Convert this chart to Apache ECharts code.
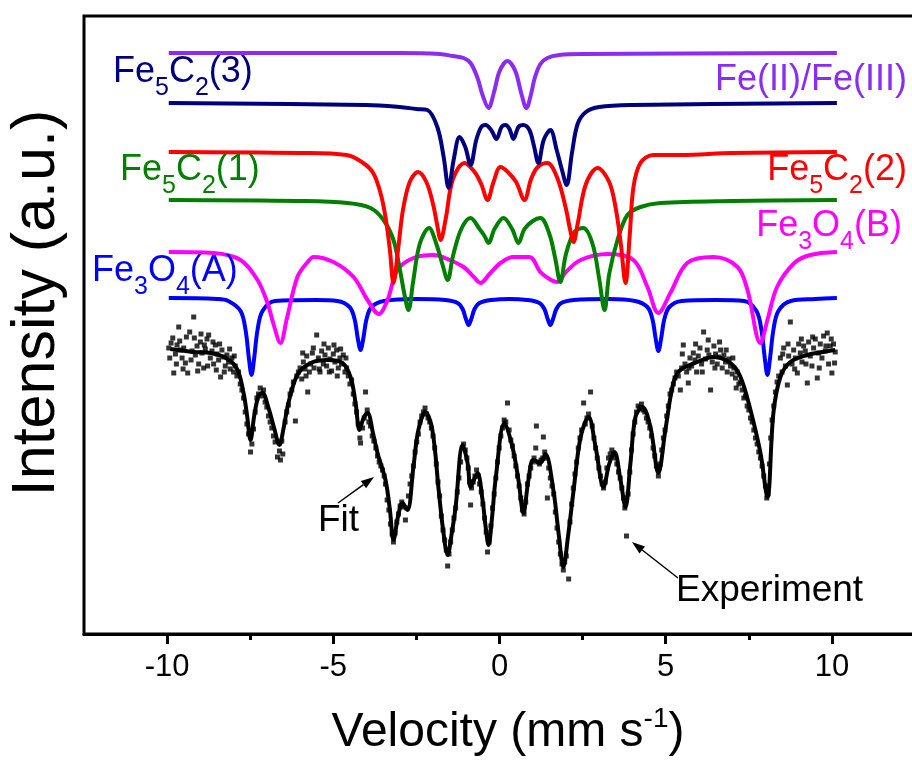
<!DOCTYPE html>
<html>
<head>
<meta charset="utf-8">
<title>Mössbauer spectrum</title>
<script src="https://cdn.jsdelivr.net/npm/echarts@6/dist/echarts.min.js"></script>
<style>
    html, body { margin: 0; padding: 0; background: #fff; }
    #main { width: 912px; height: 769px; }
</style>
</head>
<body>
<div id="main"></div>
<script>
/* velocity (mm/s), intensity (a.u.) */
var xMajor = [-10, -5, 0, 5, 10];
var xMinor = [-7.5, -2.5, 2.5, 7.5];

var fe2fe3 = [[-9.95,581],[-3,581],[-1.8,580],[-1.4,578],[-1.08,576],[-0.87,571],[-0.66,556],[-0.5,538],[-0.33,526],[-0.18,540],[-0.02,561],[0.12,570],[0.24,573],[0.36,570],[0.5,561],[0.66,540],[0.81,526],[0.95,540],[1.06,556],[1.23,570],[1.44,576],[1.8,579],[2.5,580],[10.15,581]];

var fe5c2_3 = [[-9.95,531],[-4,529],[-3,527],[-2.5,525],[-2.17,524],[-1.87,507],[-1.68,477],[-1.53,446],[-1.38,474],[-1.2,497],[-1.03,487],[-0.87,469],[-0.7,494],[-0.55,507],[-0.42,509],[-0.25,504],[-0.09,495],[0.06,507],[0.18,509],[0.3,505],[0.42,495],[0.57,507],[0.72,509],[0.9,504],[1.03,489],[1.17,471],[1.33,494],[1.53,504],[1.72,484],[1.88,464],[2.02,449],[2.18,481],[2.35,510],[2.6,522],[3.0,527],[4,529],[10.15,531]];

var fe5c2_2 = [[-9.95,482],[-6,481],[-4.6,479],[-4.1,471],[-3.8,461],[-3.58,441],[-3.43,417],[-3.3,385],[-3.19,351],[-3.05,385],[-2.9,425],[-2.7,452],[-2.45,462],[-2.2,452],[-2.0,430],[-1.88,410],[-1.77,394],[-1.62,415],[-1.4,455],[-1.05,471],[-0.75,462],[-0.55,450],[-0.36,434],[-0.18,452],[0.03,467],[0.25,462],[0.5,452],[0.75,434],[0.95,455],[1.15,467],[1.44,471],[1.75,455],[2.0,425],[2.12,405],[2.23,392],[2.35,410],[2.6,450],[2.95,466],[3.3,452],[3.5,425],[3.65,390],[3.79,351],[3.92,400],[4.03,447],[4.24,471],[4.63,479],[5.44,479],[7,481],[10.15,482]];

var fe5c2_1 = [[-9.95,434],[-6,433],[-4.57,431],[-3.88,426],[-3.49,414],[-3.19,394],[-3.0,365],[-2.85,338],[-2.74,324],[-2.6,352],[-2.4,390],[-2.12,406],[-1.9,390],[-1.72,370],[-1.56,354],[-1.4,378],[-1.15,405],[-0.87,416],[-0.6,405],[-0.45,398],[-0.33,391],[-0.15,405],[0.12,416],[0.38,405],[0.57,391],[0.75,405],[1.0,413],[1.23,416],[1.5,400],[1.68,375],[1.83,352],[2.0,380],[2.25,402],[2.52,406],[2.8,390],[3.0,355],[3.16,324],[3.3,360],[3.55,394],[3.85,419],[4.24,427],[4.84,431],[7,433],[10.15,434]];

var fe3o4B = [[-9.95,382],[-8.6,381],[-7.79,374],[-7.28,354],[-6.98,331],[-6.8,310],[-6.59,291],[-6.4,315],[-6.08,357],[-5.77,372],[-5.59,377],[-5.0,372],[-4.39,357],[-3.97,334],[-3.63,320],[-3.37,334],[-3.07,364],[-2.59,376],[-1.98,379],[-1.5,374],[-1.08,367],[-0.8,358],[-0.57,351],[-0.3,360],[0.03,371],[0.42,377],[0.9,377],[1.23,362],[1.5,355],[1.74,352],[2.0,362],[2.44,374],[3.25,380],[4.03,374],[4.45,347],[4.78,321],[5.14,341],[5.65,371],[6.44,377],[7.16,367],[7.46,344],[7.85,291],[8.06,314],[8.35,347],[8.87,371],[9.35,379],[10.15,382]];

var fe3o4A = [[-9.95,336],[-8.5,335],[-8.16,333],[-7.79,323],[-7.64,304],[-7.54,276],[-7.46,259],[-7.38,276],[-7.28,304],[-7.13,323],[-6.76,333],[-5.5,334],[-4.88,333],[-4.51,327],[-4.36,315],[-4.26,295],[-4.18,284],[-4.1,295],[-4.0,315],[-3.85,327],[-3.48,333],[-2.5,335],[-1.63,334],[-1.26,331],[-1.11,325],[-1.01,315],[-0.93,309],[-0.85,315],[-0.75,325],[-0.6,331],[-0.23,334],[0.3,335],[0.83,334],[1.2,331],[1.35,325],[1.45,315],[1.53,309],[1.61,315],[1.71,325],[1.86,331],[2.23,334],[3.3,335],[4.08,333],[4.45,327],[4.6,315],[4.7,295],[4.78,283],[4.86,295],[4.96,315],[5.11,327],[5.48,333],[6.5,334],[7.36,333],[7.73,323],[7.88,304],[7.98,276],[8.06,259],[8.14,276],[8.24,304],[8.39,323],[8.76,333],[9.5,335],[10.15,336]];

var fitCurve = [[-9.9,285],[-9.2,282],[-8.69,281],[-8.18,275],[-7.88,264],[-7.7,241],[-7.6,220],[-7.49,194],[-7.38,218],[-7.25,238],[-7.13,241],[-6.95,226],[-6.78,206],[-6.62,189],[-6.5,205],[-6.35,231],[-6.08,259],[-5.68,271],[-5.17,274],[-4.72,271],[-4.48,257],[-4.33,231],[-4.21,204],[-4.09,216],[-3.97,221],[-3.8,200],[-3.67,181],[-3.43,154],[-3.3,125],[-3.19,94],[-3.05,118],[-2.92,131],[-2.77,124],[-2.59,167],[-2.44,204],[-2.23,222],[-2.02,204],[-1.83,144],[-1.7,105],[-1.56,79],[-1.44,100],[-1.32,127],[-1.11,189],[-0.96,171],[-0.87,147],[-0.76,155],[-0.66,161],[-0.51,134],[-0.42,108],[-0.33,89],[-0.22,118],[-0.12,154],[0.15,211],[0.39,187],[0.57,154],[0.72,121],[0.87,154],[1.02,174],[1.23,171],[1.38,180],[1.62,144],[1.78,100],[1.92,67],[2.07,100],[2.23,144],[2.44,197],[2.68,217],[2.89,187],[3.13,147],[3.3,170],[3.46,182],[3.64,154],[3.79,127],[3.94,171],[4.09,217],[4.3,227],[4.54,207],[4.78,161],[4.99,204],[5.23,251],[5.44,264],[5.95,272],[6.44,277],[6.95,271],[7.25,257],[7.55,224],[7.85,181],[8.06,137],[8.24,221],[8.45,257],[8.75,272],[9.26,279],[9.74,282],[10.1,284]];

var experiment = [[-9.95,286],[-9.88,291],[-9.8,261],[-9.75,280],[-9.7,289],[-9.65,307],[-9.6,284],[-9.55,276],[-9.5,286],[-9.45,271],[-9.38,261],[-9.32,302],[-9.25,283],[-9.2,317],[-9.15,279],[-9.1,288],[-9.05,270],[-9.0,292],[-8.95,281],[-8.9,266],[-8.85,285],[-8.8,295],[-8.75,299],[-8.7,276],[-8.65,283],[-8.6,270],[-8.55,289],[-8.5,280],[-8.45,274],[-8.39,257],[-8.35,284],[-8.3,277],[-8.25,268],[-8.2,279],[-8.15,272],[-8.1,265],[-8.05,276],[-8.0,262],[-7.95,268],[-7.9,258],[-7.85,262],[-7.8,250],[-7.75,244],[-7.7,236],[-7.65,222],[-7.6,210],[-7.55,200],[-7.49,182],[-7.45,190],[-7.4,205],[-7.35,222],[-7.3,236],[-7.25,240],[-7.2,246],[-7.15,238],[-7.1,244],[-7.05,232],[-7.0,227],[-6.95,218],[-6.9,212],[-6.85,206],[-6.8,198],[-6.75,192],[-6.68,177],[-6.62,183],[-6.59,174],[-6.55,193],[-6.52,180],[-6.45,212],[-6.4,222],[-6.35,229],[-6.3,240],[-6.25,244],[-6.2,252],[-6.14,213],[-6.1,258],[-6.05,262],[-6.0,266],[-5.95,255],[-5.9,272],[-5.85,265],[-5.8,278],[-5.77,242],[-5.72,262],[-5.68,270],[-5.63,281],[-5.58,266],[-5.5,299],[-5.45,276],[-5.4,262],[-5.35,283],[-5.3,270],[-5.25,279],[-5.2,268],[-5.15,286],[-5.1,275],[-5.05,263],[-5.0,280],[-4.95,272],[-4.9,284],[-4.85,266],[-4.8,276],[-4.75,270],[-4.7,279],[-4.65,262],[-4.6,266],[-4.55,258],[-4.5,250],[-4.45,254],[-4.4,240],[-4.35,230],[-4.3,222],[-4.25,210],[-4.2,196],[-4.18,191],[-4.12,206],[-4.07,216],[-4.03,242],[-3.98,224],[-3.93,212],[-3.88,208],[-3.83,198],[-3.78,193],[-3.72,186],[-3.67,178],[-3.62,172],[-3.57,168],[-3.52,164],[-3.47,158],[-3.43,150],[-3.38,134],[-3.33,124],[-3.28,110],[-3.23,100],[-3.19,92],[-3.14,101],[-3.09,112],[-3.04,120],[-2.99,128],[-2.94,132],[-2.89,127],[-2.83,114],[-2.79,126],[-2.74,138],[-2.69,150],[-2.64,158],[-2.59,168],[-2.54,182],[-2.49,192],[-2.44,200],[-2.39,212],[-2.34,218],[-2.29,222],[-2.24,226],[-2.2,220],[-2.15,216],[-2.1,212],[-2.05,206],[-2.0,198],[-1.95,186],[-1.9,170],[-1.85,152],[-1.8,138],[-1.75,118],[-1.7,104],[-1.65,94],[-1.6,84],[-1.56,68],[-1.52,80],[-1.47,92],[-1.42,104],[-1.37,116],[-1.32,126],[-1.27,142],[-1.22,156],[-1.17,172],[-1.12,186],[-1.08,190],[-1.03,184],[-0.98,176],[-0.94,166],[-0.9,152],[-0.87,129],[-0.84,146],[-0.79,152],[-0.74,158],[-0.69,164],[-0.64,158],[-0.6,150],[-0.55,142],[-0.5,130],[-0.45,116],[-0.4,102],[-0.36,82],[-0.31,92],[-0.26,108],[-0.21,126],[-0.16,140],[-0.11,156],[-0.06,172],[-0.01,186],[0.04,198],[0.09,206],[0.14,214],[0.19,212],[0.24,231],[0.29,204],[0.34,194],[0.39,188],[0.44,178],[0.49,168],[0.54,158],[0.59,148],[0.64,136],[0.69,124],[0.74,120],[0.79,132],[0.84,150],[0.89,158],[0.94,166],[0.99,172],[1.04,176],[1.09,186],[1.11,208],[1.15,172],[1.2,170],[1.25,174],[1.3,176],[1.32,197],[1.36,182],[1.41,176],[1.44,136],[1.48,166],[1.53,156],[1.58,148],[1.63,140],[1.68,122],[1.73,106],[1.78,92],[1.83,80],[1.88,70],[1.92,64],[1.96,72],[2.01,78],[2.08,55],[2.12,112],[2.17,130],[2.22,146],[2.27,160],[2.32,172],[2.37,186],[2.42,196],[2.47,204],[2.53,231],[2.58,210],[2.63,216],[2.68,220],[2.74,242],[2.79,208],[2.84,196],[2.89,186],[2.94,176],[2.99,166],[3.04,158],[3.09,150],[3.13,146],[3.18,152],[3.23,166],[3.28,176],[3.33,180],[3.38,184],[3.43,180],[3.48,176],[3.53,170],[3.58,162],[3.63,156],[3.68,146],[3.73,136],[3.77,126],[3.82,98],[3.87,140],[3.92,162],[3.97,184],[4.02,200],[4.07,212],[4.12,222],[4.17,228],[4.22,226],[4.27,230],[4.32,224],[4.37,222],[4.42,216],[4.47,212],[4.52,206],[4.57,198],[4.62,186],[4.67,178],[4.72,168],[4.78,158],[4.83,170],[4.88,184],[4.93,196],[4.98,204],[5.03,218],[5.08,228],[5.13,240],[5.18,244],[5.23,250],[5.28,256],[5.33,262],[5.38,258],[5.44,244],[5.48,266],[5.53,289],[5.58,270],[5.63,262],[5.68,251],[5.73,276],[5.78,268],[5.83,281],[5.88,274],[5.93,262],[5.98,278],[6.03,286],[6.08,270],[6.14,302],[6.2,275],[6.25,284],[6.3,279],[6.35,244],[6.4,272],[6.45,288],[6.5,280],[6.55,270],[6.6,277],[6.65,284],[6.7,266],[6.75,279],[6.8,272],[6.85,262],[6.9,275],[6.95,268],[7.0,260],[7.05,266],[7.1,256],[7.15,262],[7.2,250],[7.25,252],[7.3,244],[7.35,236],[7.4,238],[7.45,228],[7.5,224],[7.55,216],[7.6,212],[7.65,204],[7.7,196],[7.75,190],[7.8,182],[7.85,176],[7.9,168],[7.95,158],[8.0,148],[8.04,136],[8.08,140],[8.12,170],[8.16,196],[8.2,214],[8.25,228],[8.3,242],[8.35,252],[8.4,258],[8.45,276],[8.5,262],[8.55,286],[8.6,268],[8.66,249],[8.7,278],[8.75,312],[8.8,270],[8.85,284],[8.9,276],[8.96,261],[9.0,290],[9.05,281],[9.1,272],[9.15,288],[9.2,283],[9.26,251],[9.3,292],[9.35,278],[9.4,268],[9.45,286],[9.5,295],[9.56,256],[9.6,281],[9.65,290],[9.7,276],[9.75,298],[9.8,283],[9.86,301],[9.9,270],[9.95,288],[10.0,261],[10.05,290],[10.1,282],
    [-9.92,276],[-9.83,296],[-9.72,270],[-9.62,293],[-9.52,265],[-9.42,297],[-9.28,274],[-9.18,296],[-9.08,263],[-8.98,300],[-8.88,289],[-8.78,268],[-8.62,292],[-8.52,264],[-8.42,290],[-8.28,262],[-8.12,285],[-7.98,278],
    [-5.92,281],[-5.82,258],[-5.6,286],[-5.42,265],[-5.28,290],[-5.12,262],[-4.98,289],[-4.88,258],[-4.78,285],[-4.62,276],
    [5.5,280],[5.7,266],[5.9,290],[6.1,262],[6.28,294],[6.48,266],[6.62,292],[6.82,284],[7.02,276],[7.12,246],[8.52,280],[8.68,290],[8.88,265],[9.08,295],[9.22,270],[9.42,297],[9.62,266],[9.82,288],[9.98,295],[10.08,271]];

var FONT = 'Liberation Sans, Arial, sans-serif';

var myChart = echarts.init(document.getElementById('main'));

/* 组分曲线 */
function curve(name, data, color) {
    return {
        name: name,
        type: 'line',
        data: data,
        showSymbol: false,
        smooth: 0.35,
        silent: true,
        lineStyle: { color: color, width: 4 },
        itemStyle: { color: color },
        z: 3
    };
}

/* 带下标的标签 Fe5C2(3) 之类 */
function chemLabel(parts, x, y, color, align) {
    var text = '';
    parts.forEach(function (p) {
        text += p[1] ? '{s|' + p[0] + '}' : '{n|' + p[0] + '}';
    });
    return {
        type: 'text',
        x: x,
        y: y,
        z: 100,
        style: {
            text: text,
            align: align,
            verticalAlign: 'middle',
            fill: color,
            rich: {
                n: { fontSize: 36, lineHeight: 58, fontFamily: FONT, fill: color },
                s: { fontSize: 25, verticalAlign: 'bottom', fontFamily: FONT, fill: color }
            }
        }
    };
}

function arrow(x1, y1, x2, y2) {
    var dx = x2 - x1, dy = y2 - y1;
    var len = Math.sqrt(dx * dx + dy * dy);
    var ux = dx / len, uy = dy / len;
    var hl = 13, hw = 4.5;
    var bx = x2 - ux * hl, by = y2 - uy * hl;
    return [{
        type: 'line', z: 100,
        shape: { x1: x1, y1: y1, x2: bx, y2: by },
        style: { stroke: '#000', lineWidth: 1.5 }
    }, {
        type: 'polygon', z: 100,
        shape: { points: [[x2, y2], [bx - uy * hw, by + ux * hw], [bx + uy * hw, by - ux * hw]] },
        style: { fill: '#000' }
    }];
}

var graphics = [
    chemLabel([['Fe'], ['5', 1], ['C'], ['2', 1], ['(3)']], 113, 72, '#00007f', 'left'),
    chemLabel([['Fe(II)/Fe(III)']], 907, 80, '#8b2cf2', 'right'),
    chemLabel([['Fe'], ['5', 1], ['C'], ['2', 1], ['(1)']], 120, 170, '#007f00', 'left'),
    chemLabel([['Fe'], ['5', 1], ['C'], ['2', 1], ['(2)']], 907, 170, '#ff0000', 'right'),
    chemLabel([['Fe'], ['3', 1], ['O'], ['4', 1], ['(B)']], 902, 226, '#ff00ff', 'right'),
    chemLabel([['Fe'], ['3', 1], ['O'], ['4', 1], ['(A)']], 92, 271, '#0000ff', 'left'),
    {
        type: 'text', x: 318, y: 521, z: 100,
        style: { text: 'Fit', fontSize: 37, fontFamily: FONT, fill: '#000', align: 'left', verticalAlign: 'middle' }
    },
    {
        type: 'text', x: 676, y: 591, z: 100,
        style: { text: 'Experiment', fontSize: 37, fontFamily: FONT, fill: '#000', align: 'left', verticalAlign: 'middle' }
    },
    {
        type: 'text', x: 37, y: 303, z: 100, rotation: Math.PI / 2,
        style: { text: 'Intensity (a.u.)', fontSize: 61, fontFamily: FONT, fill: '#000', align: 'center', verticalAlign: 'middle' }
    },
    {
        type: 'text', x: 508, y: 733, z: 100,
        style: {
            text: '{a|Velocity (mm s}{b|-1}{a|)}',
            align: 'center', verticalAlign: 'middle', fill: '#000',
            rich: {
                a: { fontSize: 48, lineHeight: 56, fontFamily: FONT, fill: '#000' },
                b: { fontSize: 28, lineHeight: 26, verticalAlign: 'top', fontFamily: FONT, fill: '#000' }
            }
        }
    }
].concat(arrow(338, 503, 374, 477)).concat(arrow(678, 578, 632, 542));

var option = {
    animation: false,
    backgroundColor: '#fff',
    grid: {
        left: 84, top: 16, width: 831, height: 618,
        show: true, borderColor: '#000', borderWidth: 3,
        outerBoundsMode: 'none'
    },
    xAxis: [{
        type: 'value', min: -12.5, max: 12.5,
        axisLine: { show: true, onZero: false, lineStyle: { color: '#000', width: 3 } },
        axisTick: { show: true, length: 10, lineStyle: { color: '#000', width: 3 }, customValues: xMajor },
        axisLabel: { show: true, customValues: xMajor, margin: 18, fontSize: 31, fontFamily: FONT, color: '#000' },
        splitLine: { show: false }
    }, {
        type: 'value', min: -12.5, max: 12.5, position: 'bottom',
        axisLine: { show: false, onZero: false },
        axisTick: { show: true, length: 6, lineStyle: { color: '#000', width: 3 }, customValues: xMinor },
        axisLabel: { show: false },
        splitLine: { show: false }
    }],
    yAxis: {
        type: 'value', min: 0, max: 618,
        axisLine: { show: false, onZero: false },
        axisTick: { show: false },
        axisLabel: { show: false },
        splitLine: { show: false }
    },
    series: [
        {
            name: 'Experiment',
            type: 'scatter',
            data: experiment,
            symbol: 'rect',
            symbolSize: 5,
            silent: true,
            itemStyle: { color: '#000' },
            z: 2
        },
        curve('Fit', fitCurve, '#000000'),
        curve('Fe3O4(A)', fe3o4A, '#0000ff'),
        curve('Fe3O4(B)', fe3o4B, '#ff00ff'),
        curve('Fe5C2(1)', fe5c2_1, '#007f00'),
        curve('Fe5C2(2)', fe5c2_2, '#ff0000'),
        curve('Fe5C2(3)', fe5c2_3, '#00007f'),
        curve('Fe(II)/Fe(III)', fe2fe3, '#8b2cf2')
    ],
    graphic: graphics
};

myChart.setOption(option);
</script>
</body>
</html>
